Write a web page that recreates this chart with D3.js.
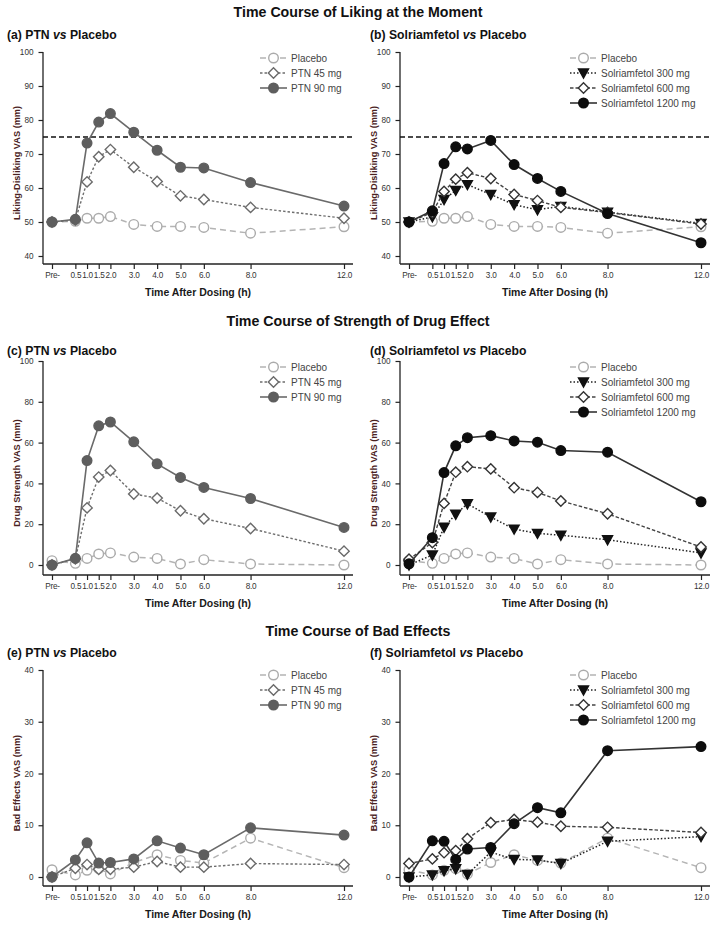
<!DOCTYPE html>
<html>
<head>
<meta charset="utf-8">
<script src="https://cdn.jsdelivr.net/npm/d3@7/dist/d3.min.js"></script>
<style>
  html, body { margin: 0; padding: 0; background: #fff; }
  svg { display: block; }
  .tick text { font-family: "Liberation Sans", Arial, Helvetica, sans-serif; font-size: 8.2px; fill: #333; }
</style>
</head>
<body>
<svg id="chart" width="717" height="926"></svg>
<script>
// ---------- DATA ----------
const hours = [-0.5, 0.5, 1, 1.5, 2, 3, 4, 5, 6, 8, 12];
const tickLabels = ["Pre-", "0.5", "1.0", "1.5", "2.0", "3.0", "4.0", "5.0", "6.0", "8.0", "12.0"];

const likingPlacebo = [50, 50.2, 51.1, 51.1, 51.6, 49.3, 48.7, 48.7, 48.4, 46.7, 48.6];
const likingPtn45   = [50, 50.6, 61.8, 69.2, 71.3, 66.1, 61.9, 57.7, 56.6, 54.3, 51.1];
const likingPtn90   = [50, 50.8, 73.2, 79.4, 81.9, 76.4, 71.1, 66.1, 65.9, 61.6, 54.7];
const likingSol300  = [50, 51.5, 56.6, 59.3, 61.0, 58.1, 55.1, 53.6, 54.6, 52.9, 49.6];
const likingSol600  = [50, 52.8, 59.0, 62.6, 64.5, 62.8, 58.1, 56.3, 54.3, 52.8, 49.4];
const likingSol1200 = [50, 53.3, 67.2, 72.1, 71.5, 74.0, 66.9, 62.8, 59.0, 52.5, 43.9];

const strengthPlacebo = [2.1, 0.8, 3.2, 5.4, 5.9, 3.9, 3.2, 0.5, 2.6, 0.5, 0];
const strengthPtn45   = [0, 3.0, 28.0, 43.1, 46.3, 34.8, 32.8, 26.6, 22.7, 17.9, 6.8];
const strengthPtn90   = [0, 3.3, 51.2, 68.2, 70.1, 60.4, 49.6, 42.9, 38.0, 32.6, 18.4];
const strengthSol300  = [0, 4.9, 18.5, 24.9, 30.0, 23.5, 17.6, 15.5, 14.6, 12.4, 5.9];
const strengthSol600  = [2.8, 11.0, 30.2, 45.5, 48.2, 47.1, 37.9, 35.6, 31.4, 25.1, 8.8];
const strengthSol1200 = [0.6, 13.4, 45.3, 58.4, 62.4, 63.4, 60.8, 60.2, 56.1, 55.3, 31.0];

const badPlacebo = [1.4, 0.4, 1.3, 1.6, 0.6, 2.8, 4.3, 3.2, 2.7, 7.5, 1.8];
const badPtn45   = [0, 1.7, 2.4, 1.5, 1.5, 1.9, 3.0, 1.9, 1.9, 2.6, 2.4];
const badPtn90   = [0, 3.3, 6.6, 2.7, 2.8, 3.5, 7.0, 5.6, 4.3, 9.5, 8.1];
const badSol300  = [0, 0.4, 1.2, 1.6, 0.5, 4.8, 3.4, 3.3, 2.6, 6.9, 7.8];
const badSol600  = [2.6, 3.5, 4.7, 5.1, 7.4, 10.5, 11.1, 10.6, 9.8, 9.6, 8.6];
const badSol1200 = [0, 7.0, 6.9, 3.4, 5.4, 5.7, 10.3, 13.4, 12.4, 24.4, 25.2];

const ptnNames = ["Placebo", "PTN 45 mg", "PTN 90 mg"];
const solNames = ["Placebo", "Solriamfetol 300 mg", "Solriamfetol 600 mg", "Solriamfetol 1200 mg"];

const sectionTitles = ["Time Course of Liking at the Moment", "Time Course of Strength of Drug Effect", "Time Course of Bad Effects"];
const yLabels = ["Liking-Disliking VAS (mm)", "Drug Strength VAS (mm)", "Bad Effects VAS (mm)"];
const yTicks = [[40, 50, 60, 70, 80, 90, 100], [0, 20, 40, 60, 80, 100], [0, 10, 20, 30, 40]];
const yDomains = [[40, 100], [0, 100], [0, 40]];
const referenceLine = 75;

// ---------- STYLES ----------
const styles = {
  "Placebo":              { stroke: "#b4b4b4", dash: "6,4",  lw: 1.5, marker: "circle",  fill: "#fff",    mstroke: "#ababab" },
  "PTN 45 mg":            { stroke: "#6e6e6e", dash: "2.5,2", lw: 1.4, marker: "diamond", fill: "#fff",    mstroke: "#6a6a6a" },
  "PTN 90 mg":            { stroke: "#6a6a6a", dash: null,   lw: 1.6, marker: "circle",  fill: "#5e5e5e", mstroke: "#5e5e5e" },
  "Solriamfetol 300 mg":  { stroke: "#222",    dash: "1.5,2", lw: 1.5, marker: "tri",     fill: "#111",    mstroke: "#111" },
  "Solriamfetol 600 mg":  { stroke: "#444",    dash: "3.5,2", lw: 1.4, marker: "diamond", fill: "#fff",    mstroke: "#333" },
  "Solriamfetol 1200 mg": { stroke: "#333",    dash: null,   lw: 1.6, marker: "circle",  fill: "#0d0d0d", mstroke: "#0d0d0d" }
};
const markerPaths = {
  circle: "M0,-4.8A4.8,4.8 0 1,1 0,4.8A4.8,4.8 0 1,1 0,-4.8Z",
  diamond: "M0,-5.2L5.2,0L0,5.2L-5.2,0Z",
  tri: "M-5,-4L5,-4L0,5Z"
};

// ---------- LAYOUT ----------
const rows = [
  { yRange: [256, 52],  axisY: 264, titleY: 17,  subY: 39,  legendY: 58 },
  { yRange: [565, 361], axisY: 575, titleY: 326, subY: 355, legendY: 367 },
  { yRange: [877, 670], axisY: 886, titleY: 636, subY: 657, legendY: 675 }
];
const cols = [
  { off: 0,   legendX: 260 },
  { off: 357, legendX: 570 }
];
const panels = [
  { row: 0, col: 0, letter: "(a)", drug: "PTN", names: ptnNames, data: [likingPlacebo, likingPtn45, likingPtn90] },
  { row: 0, col: 1, letter: "(b)", drug: "Solriamfetol", names: solNames, data: [likingPlacebo, likingSol300, likingSol600, likingSol1200] },
  { row: 1, col: 0, letter: "(c)", drug: "PTN", names: ptnNames, data: [strengthPlacebo, strengthPtn45, strengthPtn90] },
  { row: 1, col: 1, letter: "(d)", drug: "Solriamfetol", names: solNames, data: [strengthPlacebo, strengthSol300, strengthSol600, strengthSol1200] },
  { row: 2, col: 0, letter: "(e)", drug: "PTN", names: ptnNames, data: [badPlacebo, badPtn45, badPtn90] },
  { row: 2, col: 1, letter: "(f)", drug: "Solriamfetol", names: solNames, data: [badPlacebo, badSol300, badSol600, badSol1200] }
];

const svg = d3.select("#chart");
svg.append("rect").attr("width", 717).attr("height", 926).attr("fill", "#fff");

const fontMain = "'Liberation Sans', Arial, Helvetica, sans-serif";

// section titles
rows.forEach((r, i) => {
  svg.append("text")
    .attr("x", 358).attr("y", r.titleY)
    .attr("text-anchor", "middle")
    .attr("font-family", fontMain).attr("font-weight", "bold").attr("font-size", 14.2)
    .attr("fill", "#111")
    .text(sectionTitles[i]);
});

panels.forEach(p => {
  const r = rows[p.row], c = cols[p.col];
  const g = svg.append("g");
  const x = d3.scaleLinear().domain([-0.5, 12]).range([52 + c.off, 344 + c.off]);
  const y = d3.scaleLinear().domain(yDomains[p.row]).range(r.yRange);
  const axisX0 = 43 + c.off, axisX1 = 353 + c.off;

  // subtitle
  const st = g.append("text")
    .attr("x", 7 + c.off + (p.col === 1 ? 6 : 0)).attr("y", r.subY)
    .attr("font-family", fontMain).attr("font-weight", "bold").attr("font-size", 12.2)
    .attr("fill", "#111");
  st.append("tspan").text(p.letter + " " + p.drug + " ");
  st.append("tspan").attr("font-style", "italic").text("vs");
  st.append("tspan").text(" Placebo");

  // y axis
  const ya = g.append("g").attr("transform", `translate(${axisX0},0)`)
    .call(d3.axisLeft(y).tickValues(yTicks[p.row]).tickSize(4.5).tickSizeOuter(0).tickPadding(5));
  ya.select(".domain").remove();
  ya.selectAll(".tick line").attr("stroke", "#222").attr("stroke-width", 1.2);
  g.append("line").attr("x1", axisX0).attr("x2", axisX0)
    .attr("y1", r.yRange[1]).attr("y2", r.axisY)
    .attr("stroke", "#222").attr("stroke-width", 1.3);

  // x axis
  const xa = g.append("g").attr("transform", `translate(0,${r.axisY})`)
    .call(d3.axisBottom(x).tickValues(hours).tickFormat((d, i) => tickLabels[i]).tickSize(5).tickSizeOuter(0).tickPadding(3));
  xa.select(".domain").remove();
  xa.selectAll(".tick line").attr("stroke", "#222").attr("stroke-width", 1.2);
  xa.selectAll(".tick text").attr("letter-spacing", "-0.2");
  g.append("line").attr("x1", axisX0).attr("x2", axisX1)
    .attr("y1", r.axisY).attr("y2", r.axisY)
    .attr("stroke", "#222").attr("stroke-width", 1.3);

  // axis titles
  g.append("text")
    .attr("x", (x.range()[0] + x.range()[1]) / 2).attr("y", r.axisY + 32)
    .attr("text-anchor", "middle")
    .attr("font-family", fontMain).attr("font-weight", "bold").attr("font-size", 10.5)
    .attr("fill", "#1a1a1a")
    .text("Time After Dosing (h)");
  const ymid = (r.yRange[1] + r.axisY) / 2 + 5;
  g.append("text")
    .attr("transform", `translate(${20 + c.off},${ymid}) rotate(-90)`)
    .attr("text-anchor", "middle")
    .attr("font-family", fontMain).attr("font-weight", "bold").attr("font-size", 9.2)
    .attr("fill", "#4a2222")
    .text(yLabels[p.row]);

  // reference line
  if (p.row === 0) {
    g.append("line").attr("x1", axisX0).attr("x2", axisX1)
      .attr("y1", y(referenceLine)).attr("y2", y(referenceLine))
      .attr("stroke", "#111").attr("stroke-width", 1.4).attr("stroke-dasharray", "5,3");
  }

  // series
  const line = d3.line().x((d, i) => x(hours[i])).y(d => y(d));
  p.names.forEach((name, si) => {
    const s = styles[name];
    const vals = p.data[si];
    g.append("path").attr("d", line(vals))
      .attr("fill", "none").attr("stroke", s.stroke).attr("stroke-width", s.lw)
      .attr("stroke-dasharray", s.dash);
    g.selectAll(null).data(vals).enter().append("path")
      .attr("d", markerPaths[s.marker])
      .attr("transform", (d, i) => `translate(${x(hours[i])},${y(d)})`)
      .attr("fill", s.fill).attr("stroke", s.mstroke).attr("stroke-width", 1.4);
  });

  // legend
  p.names.forEach((name, si) => {
    const s = styles[name];
    const ly = r.legendY + si * 15;
    const lx = c.legendX;
    g.append("line").attr("x1", lx).attr("x2", lx + 27).attr("y1", ly).attr("y2", ly)
      .attr("stroke", s.stroke).attr("stroke-width", s.lw).attr("stroke-dasharray", s.dash);
    g.append("path").attr("d", markerPaths[s.marker])
      .attr("transform", `translate(${lx + 13.5},${ly})`)
      .attr("fill", s.fill).attr("stroke", s.mstroke).attr("stroke-width", 1.4);
    g.append("text").attr("x", lx + 31).attr("y", ly + 3.5)
      .attr("font-family", fontMain).attr("font-size", 10).attr("fill", "#444")
      .text(name);
  });
});
</script>
</body>
</html>
